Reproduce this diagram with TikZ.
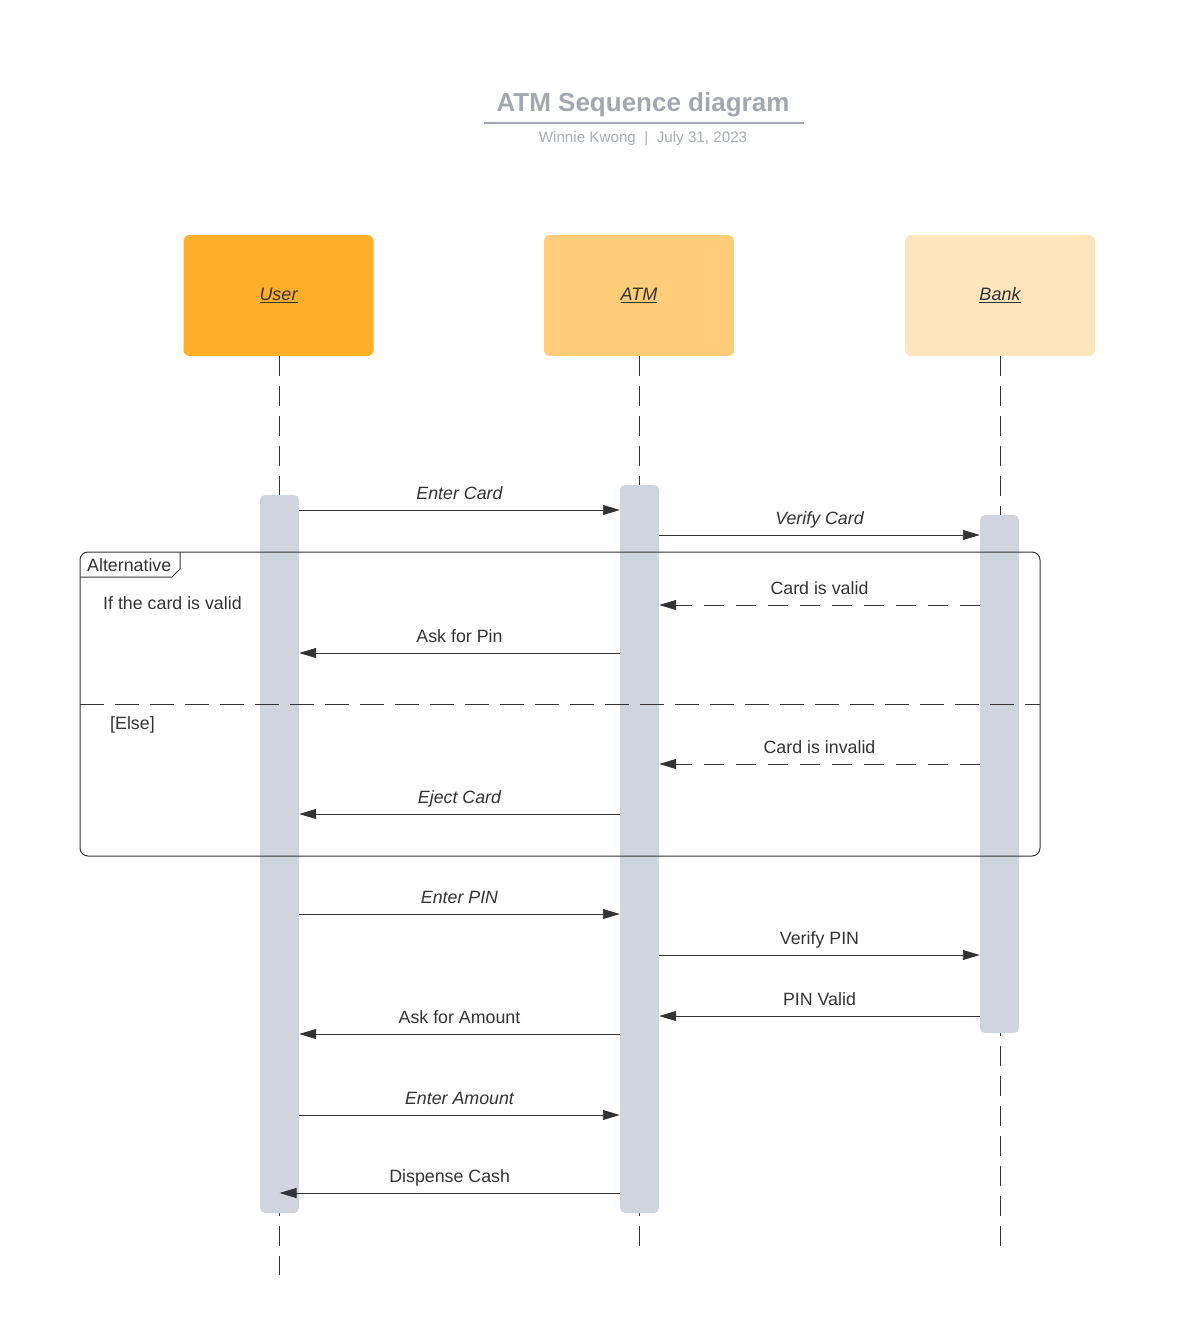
\documentclass[tikz,border=0pt]{standalone}
\usepackage{fontspec}
\setmainfont{Liberation Sans}
\usetikzlibrary{arrows.meta}
\definecolor{ink}{RGB}{51,51,51}
\definecolor{titlegray}{RGB}{163,168,176}
\definecolor{subgray}{RGB}{168,172,179}
\definecolor{userc}{RGB}{255,175,42}
\definecolor{atmc}{RGB}{255,204,122}
\definecolor{bankc}{RGB}{255,229,188}
\definecolor{barc}{RGB}{206,213,222}
\begin{document}
\begin{tikzpicture}[x=1pt,y=-1pt,
  hdr/.style={rounded corners=6pt, minimum width=190pt, minimum height=121pt,
    inner sep=0pt, text=ink, font=\fontsize{18}{21}\selectfont\itshape},
  bar/.style={fill=barc, rounded corners=5pt, minimum width=39pt, inner sep=0pt},
  life/.style={draw=ink, line width=1pt, dash pattern=on 20pt off 10pt},
  msg/.style={draw=ink, line width=0.9pt, -{Triangle[length=17pt,width=10pt]}},
  reply/.style={msg, dash pattern=on 20pt off 12pt},
  lbl/.style={text=ink, font=\fontsize{17.8}{21}\selectfont, inner sep=0pt},
  ilbl/.style={lbl, font=\fontsize{17.8}{21}\selectfont\itshape},
  mlbl/.style={lbl, anchor=base, yshift=11pt},
  milbl/.style={ilbl, anchor=base, yshift=11pt},
  frame/.style={draw=ink, line width=1pt}]
\useasboundingbox (0,0) rectangle (1199,1323);

% title block
\node[text=titlegray, font=\fontsize{26}{31}\selectfont\bfseries] (title) at (643,105) {ATM Sequence diagram};
\draw[titlegray, line width=2pt] (484,123) coordinate (tl) -- (804,123) coordinate (tr);
\node[text=subgray, font=\fontsize{15.2}{18}\selectfont] (sub) at (643,139) {Winnie Kwong\ \ |\ \ July 31, 2023};

% participants
\node[hdr, fill=userc] (user) at (278.5,295.5) {\underline{User}};
\node[hdr, fill=atmc]  (atm)  at (639,295.5) {\underline{ATM}};
\node[hdr, fill=bankc] (bank) at (1000,295.5) {\underline{Bank}};

% lifelines
\coordinate (uend) at (279,1275);
\coordinate (aend) at (639,1255);
\coordinate (bend) at (1000,1250);
\draw[life] (user.south -| uend) -- (uend);
\draw[life] (atm.south -| aend) -- (aend);
\draw[life] (bank.south -| bend) -- (bend);

% activation bars
\node[bar, minimum height=718pt] (ubar) at (279.5,854) {};
\node[bar, minimum height=728pt] (abar) at (639.5,849) {};
\node[bar, minimum height=518pt] (bbar) at (999.5,774) {};

% alternative fragment
\draw[frame, rounded corners=8pt] (80,552) rectangle (1040,856);
\coordinate (tagA) at (80,577);
\coordinate (tagB) at (180,552);
\draw[frame] (tagA) -- (172,577) -- (180,569) -- (tagB);
\node[lbl, anchor=west] (alt) at (87,565) {Alternative};
\node[lbl, anchor=west] (guard) at (103,603) {If the card is valid};
\coordinate (sepL) at (80,704);
\coordinate (sepR) at (1040,704);
\draw[draw=ink, line width=1pt, dash pattern=on 24pt off 11pt] (sepL) -- (sepR);
\node[lbl, anchor=west] (else) at (110,725) {[Else]};

% message rows
\foreach \n/\y in {r1/510, r2/535, r3/605, r4/653, r5/764, r6/814, r7/914, r8/955, r9/1016, r10/1034, r11/1115, r12/1193}
  \coordinate (\n) at (0,\y);

\draw[msg] (ubar.east |- r1) -- node[milbl] {Enter Card} (abar.west |- r1);
\draw[msg] (abar.east |- r2) -- node[milbl] {Verify Card} (bbar.west |- r2);
\draw[reply] (bbar.west |- r3) -- node[mlbl] {Card is valid} (abar.east |- r3);
\draw[msg] (abar.west |- r4) -- node[mlbl] {Ask for Pin} (ubar.east |- r4);
\draw[reply] (bbar.west |- r5) -- node[mlbl] {Card is invalid} (abar.east |- r5);
\draw[msg] (abar.west |- r6) -- node[milbl] {Eject Card} (ubar.east |- r6);
\draw[msg] (ubar.east |- r7) -- node[milbl] {Enter PIN} (abar.west |- r7);
\draw[msg] (abar.east |- r8) -- node[mlbl] {Verify PIN} (bbar.west |- r8);
\draw[msg] (bbar.west |- r9) -- node[mlbl] {PIN Valid} (abar.east |- r9);
\draw[msg] (abar.west |- r10) -- node[mlbl] {Ask for Amount} (ubar.east |- r10);
\draw[msg] (ubar.east |- r11) -- node[milbl] {Enter Amount} (abar.west |- r11);
\draw[msg] (abar.west |- r12) -- node[mlbl] {Dispense Cash} (ubar.center |- r12);
\end{tikzpicture}
\end{document}
